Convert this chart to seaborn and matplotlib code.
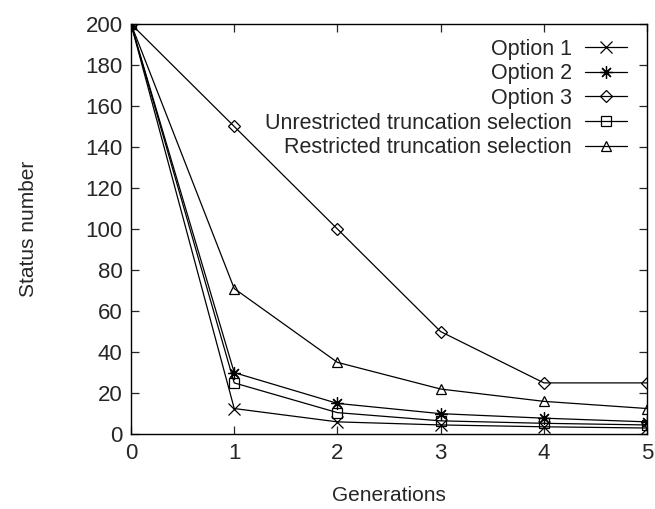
import pandas as pd
import seaborn as sns
import matplotlib.pyplot as plt

# values
generations = [0, 1, 2, 3, 4, 5]
option1 = [200, 12.5, 6, 4.5, 3.6, 3]
option2 = [200, 30, 15, 10, 7.8, 6]
option3 = [200, 150, 100, 50, 25, 25]
unrestricted = [200, 25, 10.5, 6.5, 5.3, 4.5]
restricted = [200, 71, 35, 22, 16, 12.5]

labels = ["Option 1", "Option 2", "Option 3",
          "Unrestricted truncation selection", "Restricted truncation selection"]
series = [option1, option2, option3, unrestricted, restricted]

rows = []
for lab, vals in zip(labels, series):
    for g, v in zip(generations, vals):
        rows.append({"Generations": g, "Status number": v, "method": lab})
df = pd.DataFrame(rows)

sns.set_style("ticks")
plt.rcParams["font.family"] = ["Liberation Sans", "DejaVu Sans"]

fig, ax = plt.subplots(figsize=(6.55, 5.09), dpi=100)
fig.subplots_adjust(left=0.2, right=0.988, top=0.953, bottom=0.147)

markers = {labels[0]: "x", labels[1]: (8, 2, 0), labels[2]: "D",
           labels[3]: "s", labels[4]: "^"}
sizes = {labels[0]: 8, labels[1]: 9, labels[2]: 6, labels[3]: 7, labels[4]: 7}

for lab in labels:
    sub = df[df["method"] == lab]
    sns.lineplot(data=sub, x="Generations", y="Status number", ax=ax,
                 color="black", linewidth=0.9, marker=markers[lab],
                 markersize=sizes[lab], markerfacecolor="none",
                 markeredgecolor="black", markeredgewidth=0.9, label=lab)

ax.set_xlim(0, 5)
ax.set_ylim(0, 200)
ax.set_xticks(range(0, 6))
ax.set_yticks(range(0, 201, 20))
ax.tick_params(direction="in", top=True, right=True, length=6,
               labelsize=16, pad=6, width=0.9)
for s in ax.spines.values():
    s.set_linewidth(1)
    s.set_color("black")

ax.set_xlabel("Generations", fontsize=15, labelpad=16)
ax.set_ylabel("Status number", fontsize=15, labelpad=34)

ax.legend(loc="upper right", frameon=False, markerfirst=False, fontsize=15.5,
          handlelength=1.95, labelspacing=0.17, borderaxespad=0.0,
          handletextpad=0.6, bbox_to_anchor=(0.977, 0.985))

fig.savefig("out.png", dpi=100)
